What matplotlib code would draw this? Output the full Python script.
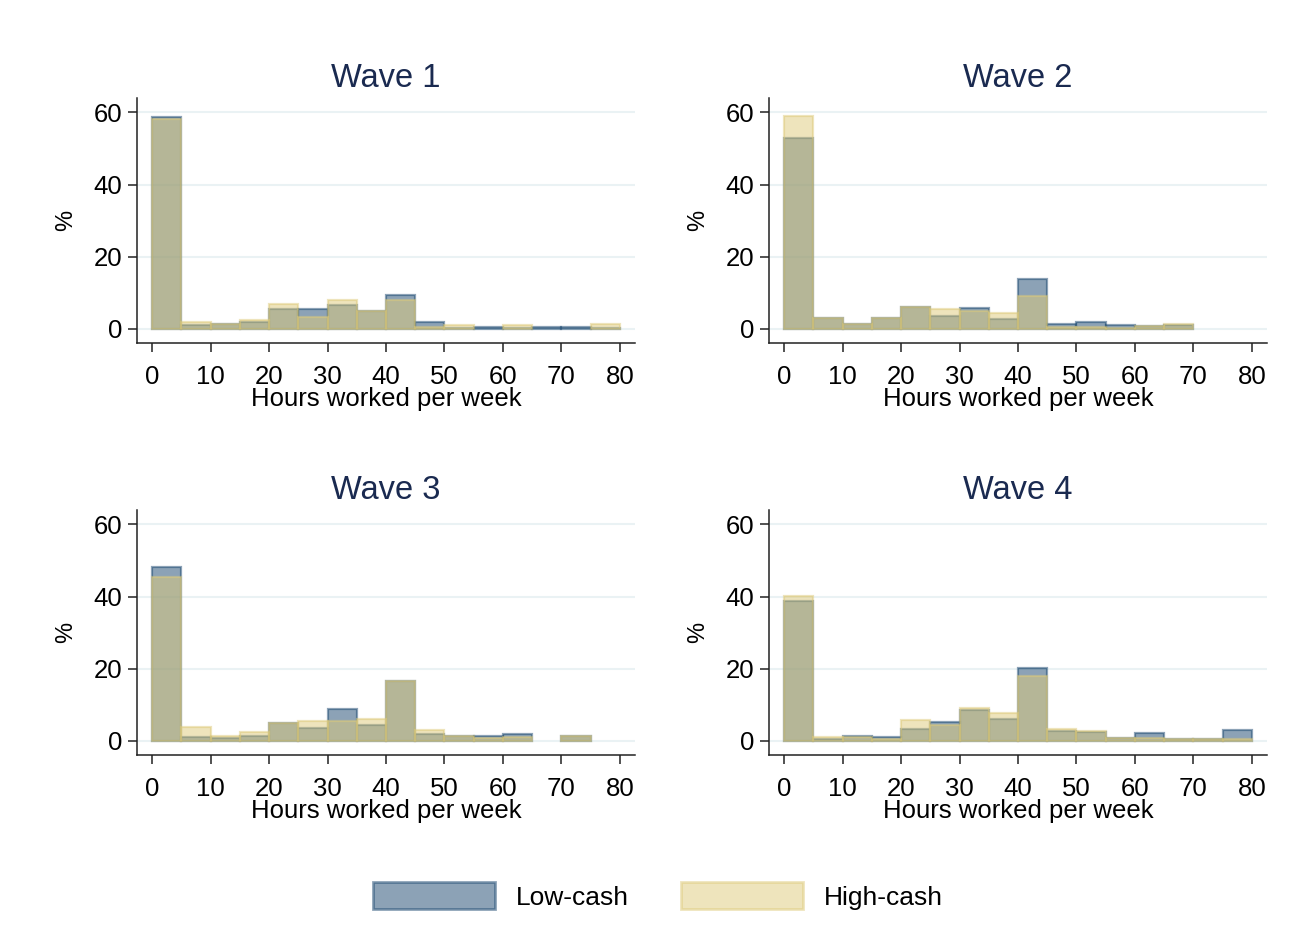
import numpy as np
import matplotlib
matplotlib.use("Agg")
import matplotlib.pyplot as plt
from matplotlib.patches import Patch

plt.rcParams['font.family'] = ['Liberation Sans', 'DejaVu Sans']

bin_edges = list(range(0, 80, 5))   # bin left edges, width 5
bin_width = 5
waves = ["Wave 1", "Wave 2", "Wave 3", "Wave 4"]
series_labels = ["Low-cash", "High-cash"]

low_w1 = [58.8, 1.0, 1.5, 2.0, 5.6, 5.5, 6.5, 5.0, 9.3, 2.0, 0.2, 0.5, 0.2, 0.5, 0.5, 0.3]
high_w1 = [58.1, 2.0, 1.5, 2.4, 7.0, 3.3, 7.9, 5.0, 7.9, 0.4, 1.1, 0.0, 1.1, 0.0, 0.0, 1.5]

low_w2 = [52.8, 3.0, 1.5, 3.0, 6.1, 3.7, 5.9, 2.8, 13.9, 1.5, 1.8, 1.1, 0.8, 1.0, 0.0, 0.0]
high_w2 = [59.0, 3.0, 1.5, 3.0, 6.1, 5.6, 5.0, 4.3, 9.1, 0.4, 0.4, 0.2, 0.8, 1.3, 0.0, 0.0]

low_w3 = [48.2, 1.1, 0.8, 1.5, 5.0, 3.7, 8.8, 4.4, 16.5, 2.0, 1.5, 1.5, 2.0, 0.0, 1.3, 0.0]
high_w3 = [45.4, 3.9, 1.4, 2.6, 5.0, 5.5, 5.6, 6.0, 16.5, 3.1, 1.5, 0.7, 1.0, 0.0, 1.3, 0.0]

low_w4 = [38.8, 0.6, 1.5, 1.0, 3.3, 5.3, 8.6, 6.0, 20.3, 2.7, 2.5, 0.8, 2.2, 0.4, 0.4, 3.1]
high_w4 = [40.3, 1.2, 1.2, 0.6, 5.8, 4.5, 9.1, 7.7, 17.9, 3.3, 2.7, 0.8, 0.8, 0.4, 0.4, 0.6]

low_all = [low_w1, low_w2, low_w3, low_w4]
high_all = [high_w1, high_w2, high_w3, high_w4]

x_ticks = [0, 10, 20, 30, 40, 50, 60, 70, 80]
y_ticks = [0, 20, 40, 60]

navy = (26/255, 71/255, 111/255, 0.5)
khaki = (222/255, 202/255, 122/255, 0.5)
grid_c = (234/255, 242/255, 244/255)
title_c = (26/255, 42/255, 80/255)

W, H = 1302, 952
fig = plt.figure(figsize=(W/100, H/100), dpi=100)
fig.patch.set_facecolor('white')

# axes pixel boxes (left, top, right, bottom)
boxes = [(137, 98, 635, 343), (769, 98, 1267, 343),
         (137, 510, 635, 755), (769, 510, 1267, 755)]

for i, (l, t, r, b) in enumerate(boxes):
    ax = fig.add_axes([l/W, 1-b/H, (r-l)/W, (b-t)/H])
    xs = np.array(bin_edges, dtype=float)
    lo = np.array(low_all[i]); hi = np.array(high_all[i])
    m = lo > 0
    ax.bar(xs[m], lo[m], width=bin_width, align='edge', facecolor=navy,
           edgecolor=navy, linewidth=1.6, zorder=3)
    m = hi > 0
    ax.bar(xs[m], hi[m], width=bin_width, align='edge', facecolor=khaki,
           edgecolor=khaki, linewidth=1.6, zorder=4)
    ax.set_xlim(-2.6, 82.6)
    ax.set_ylim(-3.9, 64.0)
    ax.set_xticks(x_ticks)
    ax.set_yticks(y_ticks)
    ax.yaxis.grid(True, color=grid_c, linewidth=1.5, zorder=0)
    ax.set_axisbelow(True)
    for s in ['top', 'right']:
        ax.spines[s].set_visible(False)
    for s in ['left', 'bottom']:
        ax.spines[s].set_linewidth(1.1)
        ax.spines[s].set_color('#222222')
    ax.tick_params(axis='both', labelsize=18.5, length=6.5, width=1.1,
                   color='#222222', labelcolor='black')
    ax.tick_params(axis='y', pad=4)
    ax.tick_params(axis='x', pad=9)
    ax.set_xlabel("Hours worked per week", fontsize=18.5, labelpad=-1)
    ax.set_ylabel("%", fontsize=17, labelpad=12)
    ax.set_title(waves[i], fontsize=23.5, color=title_c, pad=8)

handles = [Patch(facecolor=navy, edgecolor=navy, linewidth=2.0),
           Patch(facecolor=khaki, edgecolor=khaki, linewidth=2.0)]
fig.legend(handles, series_labels, loc='center', bbox_to_anchor=(658/W, 1-896/H),
           ncol=2, frameon=False, fontsize=19, handlelength=4.6,
           handleheight=1.2, handletextpad=0.8, columnspacing=2.0)

fig.savefig("out.png", dpi=100, facecolor='white')
